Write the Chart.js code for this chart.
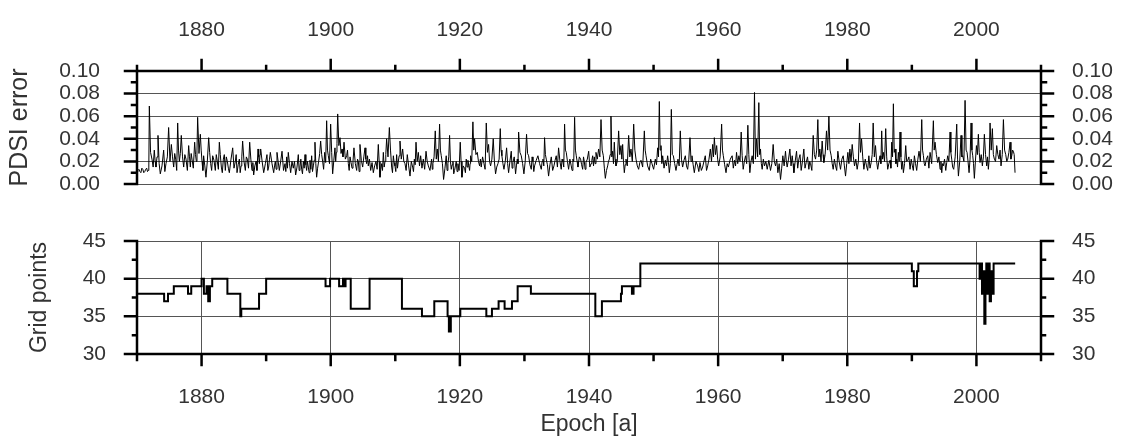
<!DOCTYPE html>
<html>
<head>
<meta charset="utf-8">
<script src="https://cdn.jsdelivr.net/npm/chart.js@4.4.1/dist/chart.umd.min.js"></script>
<style>
html,body{margin:0;padding:0;background:#fff;overflow:hidden;width:1123px;height:439px;}
#c1{position:absolute;left:0;top:0;}
#c2{position:absolute;left:0;top:200px;}
</style>
</head>
<body>
<canvas id="c1" width="1123" height="200"></canvas>
<canvas id="c2" width="1123" height="239"></canvas>
<script>
// ---- tick values ----
const xTickYears = [1870,1880,1890,1900,1910,1920,1930,1940,1950,1960,1970,1980,1990,2000,2010];
const pdsiTicks = [0,0.01,0.02,0.03,0.04,0.05,0.06,0.07,0.08,0.09,0.10];
const gridTicks = [30,32.5,35,37.5,40,42.5,45];

// ---- PDSI error series ----
const pdsiYears = [
1870.00,1870.15,1870.30,1870.45,1870.60,1870.75,1870.90,1871.05,1871.20,1871.35,1871.50,1871.62,1871.75,1871.83,1871.91,1872.10,1872.32,1872.50,1872.68,1872.81,
1872.94,1873.10,1873.25,1873.43,1873.61,1873.87,1874.13,1874.31,1874.49,1874.70,1874.90,1875.11,1875.32,1875.50,1875.68,1875.84,1875.99,1876.15,1876.30,1876.43,
1876.56,1876.71,1876.86,1877.05,1877.23,1877.41,1877.59,1877.80,1878.00,1878.13,1878.26,1878.39,1878.52,1878.72,1878.93,1879.06,1879.19,1879.29,1879.39,1879.60,
1879.81,1879.94,1880.07,1880.20,1880.32,1880.50,1880.68,1880.89,1881.10,1881.25,1881.41,1881.56,1881.72,1881.92,1882.13,1882.28,1882.44,1882.60,1882.75,1882.90,
1883.06,1883.21,1883.37,1883.52,1883.68,1883.83,1883.99,1884.15,1884.30,1884.56,1884.82,1885.02,1885.23,1885.36,1885.49,1885.67,1885.85,1885.98,1886.11,1886.23,
1886.36,1886.57,1886.78,1886.93,1887.09,1887.27,1887.45,1887.63,1887.81,1887.94,1888.07,1888.25,1888.43,1888.58,1888.74,1888.85,1888.95,1889.05,1889.15,1889.38,
1889.62,1889.88,1890.13,1890.26,1890.39,1890.52,1890.65,1890.91,1891.17,1891.30,1891.42,1891.55,1891.68,1891.86,1892.04,1892.25,1892.46,1892.69,
1892.92,1893.05,1893.18,1893.30,1893.43,1893.62,1893.80,1894.00,1894.21,1894.39,1894.57,1894.78,1894.98,1895.11,1895.24,1895.37,1895.50,1895.63,1895.76,1895.89,
1896.02,1896.15,1896.27,1896.40,1896.53,1896.66,1896.79,1896.92,1897.05,1897.18,1897.31,1897.44,1897.56,1897.69,1897.82,1897.97,1898.13,1898.29,1898.44,1898.60,
1898.75,1898.90,1899.06,1899.22,1899.37,1899.50,1899.63,1899.81,1899.99,1900.15,1900.30,1900.48,1900.66,1900.77,1900.87,1900.97,1901.08,1901.26,1901.44,1901.60,
1901.75,1901.90,1902.06,1902.27,1902.47,1902.60,1902.73,1902.86,1902.99,1903.15,1903.30,1903.45,1903.60,1903.81,1904.02,1904.15,1904.28,1904.40,1904.53,1904.74,
1904.95,1905.13,1905.31,1905.44,1905.57,1905.70,1905.82,1906.00,1906.19,1906.40,1906.60,1906.80,1907.01,1907.19,1907.37,1907.50,1907.63,1907.76,1907.89,1908.02,
1908.15,1908.28,1908.41,1908.53,1908.66,1908.87,1909.08,1909.26,1909.44,1909.57,1909.70,1909.82,1909.95,1910.08,1910.21,1910.34,1910.47,1910.60,1910.73,1910.93,
1911.14,1911.32,1911.50,1911.68,1911.86,1912.07,1912.28,1912.48,1912.69,1912.82,1912.95,1913.08,1913.21,1913.39,1913.57,1913.75,1913.93,1914.13,1914.34,1914.55,
1914.76,1914.94,1915.12,1915.37,1915.63,1915.73,
1915.83,1916.01,1916.19,1916.35,1916.50,1916.68,1916.86,1916.99,1917.12,1917.30,1917.48,1917.69,1917.89,1918.02,1918.15,1918.28,1918.41,1918.54,1918.67,1918.80,
1918.93,1919.05,1919.18,1919.31,1919.44,1919.57,1919.70,1919.88,1920.06,1920.19,1920.32,1920.52,1920.73,1920.86,1920.99,1921.12,1921.25,1921.38,1921.51,1921.58,
1921.66,1921.84,1922.02,1922.15,1922.28,1922.49,1922.70,1922.88,1923.06,1923.18,1923.31,1923.52,1923.73,1923.91,1924.09,1924.27,1924.45,1924.60,1924.76,1924.96,
1925.17,1925.35,1925.53,1925.71,1925.90,1926.08,1926.26,1926.38,1926.51,1926.67,1926.83,1927.03,1927.24,1927.40,1927.55,1927.75,1927.96,1928.09,1928.22,1928.42,
1928.63,1928.76,1928.89,1929.00,1929.10,1929.30,1929.51,1929.72,1929.92,1930.12,1930.33,1930.49,1930.65,1930.85,1931.06,1931.19,1931.32,1931.45,1931.57,1931.83,
1932.09,1932.35,1932.61,1932.74,1932.87,1933.00,1933.12,1933.25,1933.38,1933.56,1933.74,1933.95,1934.16,1934.37,1934.57,1934.75,1934.93,1935.11,1935.29,1935.50,
1935.70,1935.83,1935.96,1936.09,1936.22,1936.35,1936.48,1936.66,1936.84,1937.04,1937.25,1937.38,1937.51,1937.64,1937.77,1937.90,1938.03,1938.16,1938.29,1938.50,
1938.70,1938.86,
1939.02,1939.15,1939.27,1939.40,1939.53,1939.74,1939.95,1940.13,1940.31,1940.44,1940.57,1940.70,1940.82,1940.95,1941.08,1941.29,1941.49,1941.68,1941.86,1942.04,
1942.22,1942.38,1942.53,1942.71,1942.89,1943.02,1943.15,1943.28,1943.40,1943.53,1943.66,1943.79,1943.92,1944.05,1944.18,1944.38,1944.59,1944.77,1944.95,1945.08,
1945.21,1945.34,1945.47,1945.60,1945.73,1945.93,1946.14,1946.32,1946.50,1946.71,1946.92,1947.10,1947.28,1947.48,1947.69,1947.87,1948.05,1948.31,1948.57,1948.70,
1948.83,1949.08,1949.34,1949.55,1949.75,1950.01,1950.27,1950.45,1950.63,1950.76,1950.89,1951.02,1951.15,1951.28,1951.41,1951.62,1951.82,1952.00,1952.18,1952.31,
1952.44,1952.60,1952.75,1952.90,1953.06,1953.27,1953.47,1953.62,1953.78,1953.96,1954.14,1954.32,1954.50,1954.71,1954.92,1955.10,1955.28,1955.46,1955.64,1955.80,
1955.95,1956.13,1956.31,1956.57,1956.83,1957.01,1957.19,1957.40,1957.60,1957.80,1958.01,1958.20,1958.38,1958.58,1958.79,1958.97,1959.15,1959.28,1959.41,1959.59,
1959.77,1959.92,1960.08,1960.31,1960.54,1960.67,1960.80,1961.01,1961.22,1961.40,1961.58,1961.88,
1962.17,1962.35,1962.54,1962.70,1962.85,1963.03,1963.21,1963.39,1963.57,1963.72,1963.88,1964.06,1964.24,1964.42,1964.60,1964.75,1964.91,1965.09,1965.27,1965.45,
1965.63,1965.78,1965.94,1966.12,1966.30,1966.43,1966.56,1966.69,1966.82,1967.00,1967.18,1967.39,1967.60,1967.85,1968.11,1968.31,1968.52,1968.70,1968.89,1969.07,
1969.25,1969.45,1969.66,1969.84,1970.02,1970.22,1970.43,1970.56,1970.69,1970.90,1971.11,1971.29,1971.47,1971.60,1971.73,1971.93,1972.14,1972.32,1972.50,1972.68,
1972.86,1973.06,1973.27,1973.45,1973.64,1973.84,1974.05,1974.18,1974.31,1974.51,1974.72,1974.90,1975.08,1975.26,1975.44,1975.60,1975.75,1975.93,1976.11,1976.24,
1976.37,1976.57,1976.78,1976.96,1977.15,1977.33,1977.51,1977.66,1977.82,1978.00,1978.18,1978.36,1978.54,1978.74,1978.95,1979.16,1979.37,1979.55,1979.73,1979.91,
1980.09,1980.25,1980.40,1980.58,1980.76,1980.94,1981.12,1981.32,1981.53,1981.72,1981.90,1982.05,1982.21,1982.39,1982.57,1982.78,1982.98,1983.16,1983.34,1983.52,
1983.70,1983.86,1984.01,1984.19,1984.37,1984.54,
1984.71,1984.89,1985.07,1985.20,1985.33,1985.46,1985.59,1985.77,1985.95,1986.10,1986.26,1986.44,1986.62,1986.75,1986.88,1987.01,1987.14,1987.27,1987.40,1987.53,
1987.66,1987.78,1987.91,1988.04,1988.17,1988.30,1988.43,1988.56,1988.69,1988.87,1989.05,1989.20,1989.36,1989.54,1989.72,1989.90,1990.08,1990.23,1990.39,1990.57,
1990.75,1990.93,1991.11,1991.32,1991.53,1991.66,1991.79,1991.92,1992.04,1992.25,1992.46,1992.64,1992.82,1993.07,1993.33,1993.46,1993.59,1993.80,1994.01,1994.19,
1994.37,1994.50,1994.63,1994.75,1994.88,1995.06,1995.25,1995.40,1995.55,1995.73,1995.92,1996.04,1996.17,1996.32,1996.48,1996.71,1996.95,1997.08,1997.21,1997.41,
1997.62,1997.75,1997.88,1998.06,1998.24,1998.40,1998.55,1998.70,1998.86,1999.01,1999.17,1999.30,1999.43,1999.55,1999.68,1999.84,2000.00,2000.15,2000.30,2000.43,
2000.56,2000.74,2000.92,2001.08,2001.23,2001.41,2001.59,2001.72,2001.85,2001.98,2002.11,2002.29,2002.47,2002.62,2002.78,2002.96,2003.14,2003.32,2003.50,2003.66,
2003.81,2004.00,2004.18,2004.36,2004.54,2004.70,2004.85,2005.03,2005.21,2005.34,2005.47,2005.60,2005.72,2005.85,2005.98
];
const pdsiError = [
.011,.012,.013,.011,.010,.014,.013,.010,.011,.013,.014,.011,.012,.015,.069,.028,.022,.015,.030,.020,
.015,.024,.043,.018,.009,.016,.030,.011,.018,.024,.050,.020,.035,.024,.015,.027,.022,.012,.054,.030,
.020,.027,.043,.024,.015,.026,.022,.012,.034,.024,.015,.027,.022,.014,.037,.026,.020,.030,.059,.027,
.044,.030,.020,.012,.025,.016,.006,.020,.041,.028,.018,.012,.025,.021,.012,.026,.020,.013,.037,.026,
.015,.010,.022,.026,.012,.024,.020,.014,.010,.022,.032,.014,.020,.026,.010,.017,.022,.010,.016,.024,
.038,.020,.012,.024,.022,.014,.037,.022,.012,.019,.008,.016,.020,.012,.031,.024,.018,.026,.031,.020,
.010,.018,.026,.012,.015,.022,.028,.018,.010,.016,.020,.013,.028,.020,.012,.020,.029,.012,
.018,.011,.024,.014,.028,.018,.010,.020,.014,.020,.008,.015,.026,.012,.015,.022,.013,.009,.020,.014,
.026,.017,.012,.020,.015,.010,.021,.013,.025,.011,.016,.021,.037,.018,.006,.014,.020,.027,.038,.026,
.020,.013,.028,.019,.056,.030,.025,.018,.053,.028,.009,.021,.032,.020,.028,.036,.062,.034,.041,.027,
.031,.024,.037,.022,.025,.030,.018,.012,.024,.019,.014,.020,.032,.018,.012,.022,.020,.011,.035,.021,
.015,.024,.032,.022,.018,.025,.016,.022,.012,.019,.010,.016,.020,.013,.035,.020,.006,.013,.018,.012,
.028,.015,.020,.026,.040,.024,.050,.030,.015,.010,.025,.019,.016,.011,.026,.014,.020,.025,.038,.022,
.031,.020,.018,.012,.026,.016,.007,.020,.015,.011,.022,.017,.037,.020,.028,.016,.025,.014,.022,.013,
.029,.020,.016,.012,.022,.013,
.018,.024,.047,.022,.031,.020,.053,.030,.025,.018,.004,.014,.025,.012,.018,.024,.043,.020,.013,.017,
.020,.009,.012,.016,.020,.011,.018,.012,.037,.020,.006,.016,.014,.010,.022,.015,.021,.016,.012,.018,
.025,.020,.055,.030,.040,.026,.028,.020,.016,.022,.015,.024,.018,.013,.054,.028,.035,.020,.016,.022,
.040,.020,.009,.015,.018,.022,.049,.030,.025,.018,.013,.020,.032,.018,.010,.020,.029,.014,.019,.024,
.009,.016,.022,.018,.046,.028,.025,.018,.009,.020,.044,.027,.025,.017,.013,.024,.020,.011,.016,.021,
.025,.018,.013,.020,.022,.016,.041,.026,.022,.017,.007,.017,.024,.012,.016,.021,.025,.015,.032,.020,
.013,.022,.020,.015,.053,.030,.028,.020,.013,.022,.016,.012,.022,.020,.059,.030,.025,.020,.015,.024,
.022,.017,
.013,.024,.020,.013,.019,.022,.029,.015,.018,.021,.025,.016,.024,.018,.028,.022,.031,.024,.057,.030,
.025,.014,.005,.012,.016,.020,.022,.026,.060,.024,.029,.018,.037,.022,.016,.020,.047,.026,.034,.022,
.035,.020,.010,.017,.022,.016,.043,.024,.031,.020,.053,.030,.022,.016,.013,.019,.021,.015,.047,.030,
.025,.016,.012,.022,.018,.013,.022,.017,.032,.024,.073,.030,.034,.018,.025,.014,.021,.016,.025,.019,
.010,.018,.066,.026,.025,.018,.012,.017,.022,.016,.047,.022,.015,.021,.025,.016,.013,.022,.041,.020,
.025,.017,.010,.020,.016,.011,.019,.012,.015,.020,.025,.012,.016,.022,.031,.020,.035,.024,.041,.026,
.034,.022,.016,.024,.053,.030,.025,.017,.010,.018,.015,.022,
.025,.014,.021,.016,.028,.018,.025,.020,.046,.025,.013,.020,.025,.018,.052,.026,.010,.020,.025,.018,
.081,.022,.040,.024,.072,.026,.031,.018,.013,.022,.016,.020,.013,.021,.012,.018,.035,.020,.016,.022,
.010,.018,.004,.014,.025,.016,.029,.020,.015,.022,.031,.016,.025,.018,.010,.020,.029,.014,.022,.026,
.012,.020,.031,.014,.019,.024,.013,.020,.018,.012,.043,.026,.022,.030,.057,.024,.031,.020,.038,.026,
.019,.026,.047,.030,.060,.030,.025,.018,.013,.022,.016,.012,.029,.020,.013,.022,.025,.016,.007,.018,
.028,.018,.031,.020,.035,.024,.016,.022,.013,.020,.054,.028,.040,.024,.013,.022,.016,.012,.025,.014,
.019,.026,.054,.024,.034,.020,
.013,.020,.025,.018,.047,.022,.028,.020,.049,.024,.013,.018,.021,.014,.037,.024,.071,.028,.031,.018,
.022,.015,.028,.020,.046,.024,.013,.020,.010,.018,.034,.020,.021,.024,.013,.022,.016,.012,.025,.018,
.012,.022,.029,.020,.057,.030,.025,.018,.016,.022,.025,.014,.028,.018,.056,.030,.037,.026,.019,.024,
.013,.020,.010,.018,.016,.022,.012,.019,.025,.020,.046,.028,.022,.015,.013,.024,.053,.022,.007,.020,
.043,.024,.025,.020,.074,.030,.028,.020,.010,.022,.054,.030,.025,.018,.005,.020,.034,.026,.044,.028,
.019,.026,.016,.024,.044,.026,.016,.024,.013,.022,.054,.030,.049,.026,.022,.020,.034,.026,.022,.030,
.016,.026,.057,.030,.026,.020,.022,.028,.037,.022,.025,.030,.029,.026,.010
];

// ---- number of grid points (year a value starts, value) ----
const gridYears = [
1870.0,1874.2,1874.8,1875.7,1877.9,1878.4,1880.0,1880.36,1880.77,1881.03,
1881.29,1881.65,1884.0,1886.0,1886.15,1888.9,1890.0,1899.2,1899.9,1901.3,
1901.9,1902.0,1902.3,1903.1,1906.02,1911.03,1914.13,1916.04,1918.1,1918.3,
1918.6,1920.07,1924.1,1924.97,1926.0,1926.93,1928.07,1928.95,1931.0,1940.98,
1942.0,1944.95,1945.1,1946.65,1946.9,1947.95,1990.0,1990.3,1990.8,1991.0,
2000.49,2000.7,2000.86,2001.0,2001.22,2001.4,2001.53,2001.7,2001.89,2002.05,
2002.25,2002.45,2002.66,2006.0
];
const gridPoints = [
38,37,38,39,38,39,40,38,39,37,
39,40,38,35,36,38,40,39,40,39,
40,39,40,36,40,36,35,37,35,33,
35,36,35,36,37,36,37,39,38,35,
37,38,39,38,39,42,41,39,41,42,
40,42,38,41,34,40,42,38,42,37,
41,38,42,42
];

// ---- styling ----
const TEXT = '#333';
const GRID = '#555';
const AXIS = '#000';
Chart.defaults.font.family = '"Liberation Sans", Arial, sans-serif';
Chart.defaults.color = TEXT;

const isMajorYear = v => Math.round(v) % 20 === 0;
const isInnerMajorYear = v => isMajorYear(v) && v > 1870 && v < 2010;
const isMajorPdsi = v => Math.round(v * 100) % 2 === 0;
const isMajorGrid = v => Math.abs(v % 5) < 1e-9;

// forced axis sizes, no extra label padding so the two plot areas line up
function fixSize(prop, size) {
  return s => {
    s[prop] = size;
    s.paddingTop = 0; s.paddingBottom = 0; s.paddingLeft = 0; s.paddingRight = 0;
  };
}

function decor(axes) {
  return {
    id: 'decor',
    afterDatasetsDraw(chart) {
      const ctx = chart.ctx, a = chart.chartArea;
      ctx.save();
      ctx.strokeStyle = AXIS;
      ctx.lineCap = 'square';
      axes.forEach(ax => {
        const s = chart.scales[ax.scale];
        ctx.lineWidth = ax.lw;
        ctx.beginPath();
        if (ax.side === 'left' || ax.side === 'right') {
          const x = ax.side === 'left' ? a.left : a.right;
          const dir = ax.side === 'left' ? -1 : 1;
          ctx.moveTo(x, a.top); ctx.lineTo(x, a.bottom);
          ax.ticks.forEach(v => {
            const y = s.getPixelForValue(v);
            const len = ax.isMajor(v) ? ax.major : ax.minor;
            ctx.moveTo(x, y); ctx.lineTo(x + dir * len, y);
          });
        } else {
          const y = ax.side === 'top' ? a.top : a.bottom;
          const dir = ax.side === 'top' ? -1 : 1;
          ctx.moveTo(a.left, y); ctx.lineTo(a.right, y);
          ax.ticks.forEach(v => {
            const x = s.getPixelForValue(v);
            const len = ax.isMajor(v) ? ax.major : ax.minor;
            ctx.moveTo(x, y); ctx.lineTo(x, y + dir * len);
          });
        }
        ctx.stroke();
      });
      ctx.restore();
    }
  };
}

const tickFont = { size: 21 };
const titleFont = { size: 23 };

// ---- top chart: PDSI error ----
new Chart(document.getElementById('c1'), {
  type: 'line',
  data: {
    datasets: [{
      data: pdsiYears.map((x, i) => ({ x: x, y: pdsiError[i] })),
      borderColor: '#000', borderWidth: 1, pointRadius: 0, tension: 0
    }]
  },
  options: {
    responsive: false, animation: false, events: [],
    layout: { padding: { top: 0, bottom: 16, left: 0, right: 0 } },
    plugins: { legend: { display: false }, tooltip: { enabled: false } },
    scales: {
      x: {
        type: 'linear', position: 'top', min: 1870, max: 2010,
        afterBuildTicks: s => { s.ticks = xTickYears.map(v => ({ value: v })); },
        afterFit: fixSize('height', 71),
        grid: { display: false, drawTicks: false },
        border: { display: false },
        ticks: { padding: 28, autoSkip: false, maxRotation: 0, font: tickFont, color: TEXT,
          callback: v => isInnerMajorYear(v) ? String(v) : '' }
      },
      y: {
        position: 'left', min: 0, max: 0.1,
        afterBuildTicks: s => { s.ticks = pdsiTicks.map(v => ({ value: v })); },
        afterFit: fixSize('width', 137),
        grid: { drawTicks: false, lineWidth: 1,
          color: c => (isMajorPdsi(c.tick.value) && c.tick.value < 0.095) ? GRID : 'rgba(0,0,0,0)' },
        border: { display: false },
        ticks: { padding: 37, autoSkip: false, font: tickFont, color: TEXT,
          callback: v => isMajorPdsi(v) ? v.toFixed(2) : '' },
        title: { display: true, text: 'PDSI error', font: { size: 25 }, color: TEXT, padding: { top: 5, bottom: 0 } }
      },
      y2: {
        position: 'right', min: 0, max: 0.1,
        afterBuildTicks: s => { s.ticks = pdsiTicks.map(v => ({ value: v })); },
        afterFit: fixSize('width', 82),
        grid: { display: false, drawTicks: false },
        border: { display: false },
        ticks: { padding: 31, autoSkip: false, font: tickFont, color: TEXT,
          callback: v => isMajorPdsi(v) ? v.toFixed(2) : '' }
      }
    }
  },
  plugins: [decor([
    { scale: 'x', side: 'top', ticks: xTickYears, isMajor: isMajorYear, major: 11, minor: 5, lw: 2.5 },
    { scale: 'y', side: 'left', ticks: pdsiTicks, isMajor: isMajorPdsi, major: 12, minor: 5, lw: 2.5 },
    { scale: 'y2', side: 'right', ticks: pdsiTicks, isMajor: isMajorPdsi, major: 12, minor: 5, lw: 2.5 }
  ])]
});

// ---- bottom chart: grid points ----
new Chart(document.getElementById('c2'), {
  type: 'line',
  data: {
    datasets: [{
      data: gridYears.map((x, i) => ({ x: x, y: gridPoints[i] })),
      borderColor: '#000', borderWidth: 2, pointRadius: 0, stepped: true
    }]
  },
  options: {
    responsive: false, animation: false, events: [],
    layout: { padding: { top: 41, bottom: 0, left: 0, right: 0 } },
    plugins: { legend: { display: false }, tooltip: { enabled: false } },
    scales: {
      x: {
        type: 'linear', position: 'bottom', min: 1870, max: 2010,
        afterBuildTicks: s => { s.ticks = xTickYears.map(v => ({ value: v })); },
        afterFit: fixSize('height', 85),
        grid: { drawTicks: false, lineWidth: 1,
          color: c => isInnerMajorYear(c.tick.value) ? GRID : 'rgba(0,0,0,0)' },
        border: { display: false },
        ticks: { padding: 31, autoSkip: false, maxRotation: 0, font: tickFont, color: TEXT,
          callback: v => isInnerMajorYear(v) ? String(v) : '' },
        title: { display: true, text: 'Epoch [a]', font: titleFont, color: TEXT, padding: { top: 0, bottom: 1 } }
      },
      y: {
        position: 'left', min: 30, max: 45,
        afterBuildTicks: s => { s.ticks = gridTicks.map(v => ({ value: v })); },
        afterFit: fixSize('width', 137),
        grid: { drawTicks: false, lineWidth: 1,
          color: c => (isMajorGrid(c.tick.value) && c.tick.value > 30) ? GRID : 'rgba(0,0,0,0)' },
        border: { display: false },
        ticks: { padding: 31, autoSkip: false, font: tickFont, color: TEXT,
          callback: v => isMajorGrid(v) ? String(v) : '' },
        title: { display: true, text: 'Grid points', font: titleFont, color: TEXT, padding: { top: 26, bottom: 0 } }
      },
      y2: {
        position: 'right', min: 30, max: 45,
        afterBuildTicks: s => { s.ticks = gridTicks.map(v => ({ value: v })); },
        afterFit: fixSize('width', 82),
        grid: { display: false, drawTicks: false },
        border: { display: false },
        ticks: { padding: 31, autoSkip: false, font: tickFont, color: TEXT,
          callback: v => isMajorGrid(v) ? String(v) : '' }
      }
    }
  },
  plugins: [decor([
    { scale: 'x', side: 'bottom', ticks: xTickYears, isMajor: isMajorYear, major: 11, minor: 6, lw: 2.5 },
    { scale: 'y', side: 'left', ticks: gridTicks, isMajor: isMajorGrid, major: 12, minor: 4, lw: 2.5 },
    { scale: 'y2', side: 'right', ticks: gridTicks, isMajor: isMajorGrid, major: 12, minor: 4, lw: 2.5 }
  ])]
});
</script>
</body>
</html>
